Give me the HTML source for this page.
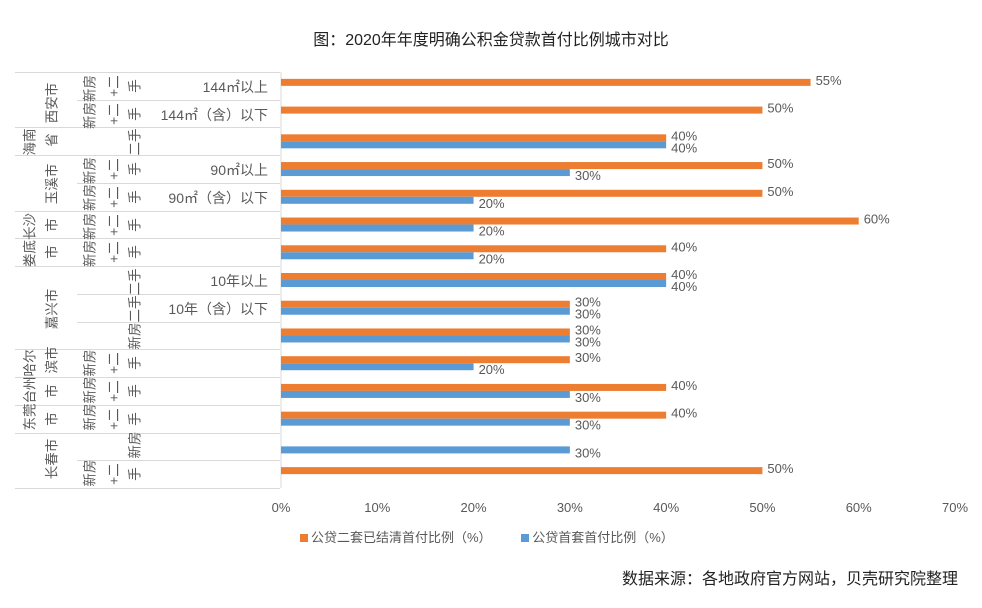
<!DOCTYPE html>
<html><head><meta charset="utf-8">
<style>
body{margin:0;background:#fff;width:982px;height:608px;overflow:hidden;position:relative;font-family:"Liberation Sans","Noto Sans CJK SC",sans-serif;color:#595959}
.v{position:absolute;white-space:nowrap;font-size:13.5px;line-height:15px;color:#595959;transform:translate(-50%,-50%) rotate(-90deg)}
.h{position:absolute;font-size:14px;color:#595959;text-align:right;width:200px;white-space:nowrap}
.ln{position:absolute;height:1px;background:#d9d9d9}
</style></head>
<body>
<div style="position:absolute;left:0;width:982px;top:26px;text-align:center;font-size:16px;color:#222">图：2020年年度明确公积金贷款首付比例城市对比</div>
<div id="labels"></div>
<svg id="chart" width="982" height="608" style="position:absolute;left:0;top:0"></svg>
<div style="position:absolute;top:527px;left:300px;font-size:13px;color:#595959;white-space:nowrap">
<span><span style="display:inline-block;width:8px;height:8px;background:#ed7d31;margin-right:3px"></span>公贷二套已结清首付比例（%）</span>
<span style="margin-left:26px"><span style="display:inline-block;width:8px;height:8px;background:#5b9bd5;margin-right:3px"></span>公贷首套首付比例（%）</span>
</div>
<div style="position:absolute;top:565px;left:622px;font-size:16px;color:#222;white-space:nowrap">数据来源：各地政府官方网站，贝壳研究院整理</div>
<script>
const categories=["西安市144㎡以上","西安市144㎡（含）以下","海南省二手","玉溪市90㎡以上","玉溪市90㎡（含）以下","长沙市","娄底市","嘉兴市10年以上","嘉兴市10年（含）以下","嘉兴市新房","哈尔滨市","台州市","东莞市","长春市新房","长春市二手"];
const secondHome=[55,50,40,50,50,60,40,40,30,30,30,40,40,null,50];
const firstHome=[null,null,40,30,20,20,20,40,30,30,20,30,30,30,null];
const xTicks=[0,10,20,30,40,50,60,70];
const NS="http://www.w3.org/2000/svg";
const svg=document.getElementById('chart');
const x0=281,x1=955,xMax=70,top0=72,bot=488;
const rowH=(bot-top0)/categories.length;
const xs=v=>x0+(x1-x0)*v/xMax;
const rowY=i=>top0+rowH*i;
function mk(t,a){const e=document.createElementNS(NS,t);for(const k in a)e.setAttribute(k,a[k]);svg.appendChild(e);return e;}
const ax=mk('line',{x1:x0,y1:top0,x2:x0,y2:bot,stroke:'#d9d9d9'});


xTicks.forEach(t=>{
  const e=mk('text',{x:xs(t),y:512,'text-anchor':'middle','font-size':13,fill:'#595959'});
  e.textContent=t+'%';
  
  
});
categories.forEach((c,i)=>{
  const yc=rowY(i)+rowH/2;
  if(secondHome[i]!=null){
    const r=mk('rect',{x:x0,y:yc-7,width:xs(secondHome[i])-x0,height:7,fill:'#ed7d31'});
    
    
    const t=mk('text',{x:xs(secondHome[i])+5,y:yc-1,'font-size':13,fill:'#595959'});
    t.textContent=secondHome[i]+'%';
    
    
  }
  if(firstHome[i]!=null){
    const r=mk('rect',{x:x0,y:yc,width:xs(firstHome[i])-x0,height:7,fill:'#5b9bd5'});
    
    
    const t=mk('text',{x:xs(firstHome[i])+5,y:yc+11,'font-size':13,fill:'#595959'});
    t.textContent=firstHome[i]+'%';
    
    
  }
});
const L=document.getElementById('labels');
function add(html){L.insertAdjacentHTML('beforeend',html);}
const groupLines=[0,2,3,5,6,7,10,11,12,13,15];
for(let i=0;i<=15;i++){
  const full=groupLines.includes(i);
  add(`<div class="ln" style="left:${full?15:77}px;width:${280-(full?15:77)}px;top:${Math.round(rowY(i))}px"></div>`);
}
const rc=i=>rowY(i)+rowH/2;
const vt=[
 [52,103,'西安市'],[30,142,'海南'],[52,140,'省'],[52,184,'玉溪市'],
 [30,240,'娄底长沙'],[52,rc(5),'市'],[52,rc(6),'市'],[52,309,'嘉兴市'],
 [30,390,'东莞台州哈尔'],[52,360,'滨市'],[52,rc(11),'市'],[52,rc(12),'市'],[52,459,'长春市'],
 [90,102,'新房新房'],[90,184,'新房新房'],[90,240,'新房新房'],
 [90,390,'新房新房新房'],[90,473,'新房'],
 [135,309,'新房二手二手'],[135,445,'新房'],[135,142,'二手']
];
vt.forEach(([x,y,t])=>add(`<div class="v" style="left:${x}px;top:${y}px">${t}</div>`));
[0,1,3,4,5,6,10,11,12,14].forEach(i=>{
  const y=rc(i);
  add(`<div class="v" style="left:114px;top:${y}px">+二</div>`);
  add(`<div class="v" style="left:135px;top:${y}px">手</div>`);
});
const hl=[[0,'144㎡以上'],[1,'144㎡（含）以下'],[3,'90㎡以上'],[4,'90㎡（含）以下'],[7,'10年以上'],[8,'10年（含）以下']];
hl.forEach(([i,t])=>add(`<div class="h" style="left:68px;top:${rowY(i)+5}px">${t}</div>`));
</script>
</body></html>
